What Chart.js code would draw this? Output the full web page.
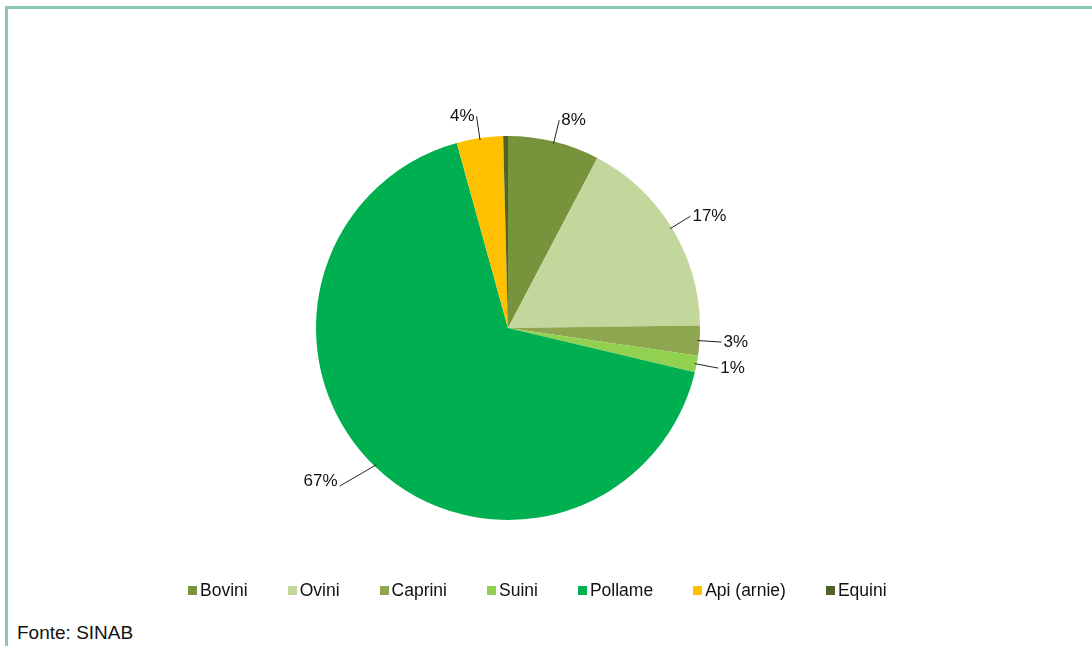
<!DOCTYPE html>
<html>
<head>
<meta charset="utf-8">
<script src="https://cdn.jsdelivr.net/npm/chart.js@4.4.1/dist/chart.umd.min.js"></script>
<style>
  body { margin: 0; background: #fff; width: 1092px; height: 646px; overflow: hidden; position: relative; }
  #frame { position: absolute; left: 5px; top: 6px; width: 1100px; height: 700px;
           border-top: 3px solid #88c9b0; border-left: 3px solid #88c9b0; }
  #wrap { position: absolute; left: 8px; top: 9px; width: 1060px; height: 600px; }
  #legend { position: absolute; left: 188px; top: 580px; height: 20px; display: flex; white-space: nowrap;
            font-family: "Liberation Sans", Arial, sans-serif; font-size: 17.5px; line-height: 20px; color: #111; }
  #legend .item { display: flex; align-items: center; margin-right: 40px; }
  #legend .box { width: 9px; height: 9px; margin-right: 3px; margin-top: 1px; }
  #source { position: absolute; left: 17px; top: 622px; font-family: "Liberation Sans", Arial, sans-serif;
            font-size: 19px; color: #111; }
</style>
</head>
<body>
<div id="frame"></div>
<div id="wrap"><canvas id="pieChart"></canvas></div>
<div id="legend"></div>
<div id="source">Fonte: SINAB</div>
<script>
// categories and shares (%)
const categories = ['Bovini', 'Ovini', 'Caprini', 'Suini', 'Pollame', 'Api (arnie)', 'Equini'];
const shares = [7.7, 17.1, 2.5, 1.4, 67.0, 3.9, 0.4];
const sliceColors = ['#77933c', '#c3d69b', '#8ea650', '#92d050', '#00b050', '#ffc000', '#4f6228'];

// draws the percentage labels with a short leader line
const pieLabels = {
    id: 'pieLabels',
    afterDatasetsDraw(chart) {
        const ctx = chart.ctx;
        const arcs = chart.getDatasetMeta(0).data;
        ctx.save();
        ctx.font = '17px "Liberation Sans", Arial, sans-serif';
        ctx.fillStyle = '#111';
        ctx.strokeStyle = '#222';
        ctx.lineWidth = 1;
        arcs.forEach((arc, i) => {
            const pct = Math.round(shares[i]);
            if (pct < 1) return;
            const p = arc.getProps(['x', 'y', 'startAngle', 'endAngle', 'outerRadius'], true);
            const mid = (p.startAngle + p.endAngle) / 2;
            const cos = Math.cos(mid), sin = Math.sin(mid);
            const right = cos >= 0;
            const x0 = p.x + cos * (p.outerRadius - 2), y0 = p.y + sin * (p.outerRadius - 2);
            let x1 = p.x + cos * (p.outerRadius + 22), y1 = p.y + sin * (p.outerRadius + 22);
            // lower-left label sits further out, with a flatter leader
            if (!right && sin > 0.3) { x1 -= 20; y1 += 4; }
            ctx.beginPath();
            ctx.moveTo(x0, y0);
            ctx.lineTo(x1, y1);
            ctx.stroke();
            ctx.textAlign = right ? 'left' : 'right';
            ctx.textBaseline = 'middle';
            ctx.fillText(pct + '%', x1 + (right ? 2 : -2), y1 - (!right && sin > 0.3 ? 5 : 0));
        });
        ctx.restore();
    }
};

const ctx = document.getElementById('pieChart').getContext('2d');
new Chart(ctx, {
    type: 'pie',
    data: {
        labels: categories,
        datasets: [{
            data: shares,
            backgroundColor: sliceColors,
            borderWidth: 0,
            radius: 192
        }]
    },
    options: {
        responsive: true,
        maintainAspectRatio: false,
        animation: false,
        layout: { padding: { left: 0, right: 60, top: 80, bottom: 42 } },
        plugins: {
            tooltip: { enabled: false },
            legend: { display: false }
        }
    },
    plugins: [pieLabels]
});

// legend built from the same arrays
const legendEl = document.getElementById('legend');
categories.forEach((name, i) => {
    const item = document.createElement('div');
    item.className = 'item';
    const box = document.createElement('span');
    box.className = 'box';
    box.style.background = sliceColors[i];
    item.appendChild(box);
    item.appendChild(document.createTextNode(name));
    legendEl.appendChild(item);
});
</script>
</body>
</html>
